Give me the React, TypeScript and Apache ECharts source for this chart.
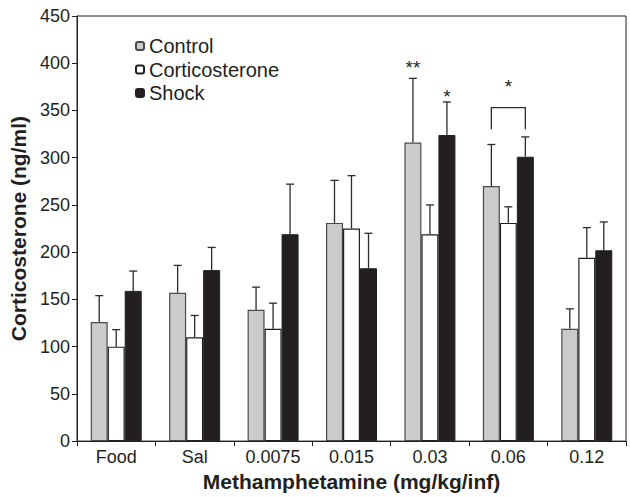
import React, { useEffect, useRef } from "react";
import * as echarts from "echarts";

const categories = ["Food", "Sal", "0.0075", "0.015", "0.03", "0.06", "0.12"];
const seriesNames = ["Control", "Corticosterone", "Shock"];
const controlValues = [126, 157, 139, 231, 316, 270, 119];
const controlSem = [28, 29, 24, 45, 68, 44, 21];
const corticosteroneValues = [100, 110, 119, 225, 219, 231, 194];
const corticosteroneSem = [18, 23, 27, 56, 31, 17, 32];
const shockValues = [159, 181, 219, 183, 324, 301, 202];
const shockSem = [21, 24, 53, 37, 35, 21, 30];
const yTicks = { min: 0, max: 450, interval: 50 };
// significance marks: [categoryIndex, barIndex (0..2, 1 = group centre), value, text]
const starMarks: [number, number, number, string][] = [
  [4, 0, 396, "**"],
  [4, 2, 365, "*"],
  [5, 1, 375, "*"],
];
// bracket: [categoryIndex, top value, leg bottom value]
const brackets: [number, number, number][] = [[5, 353, 330]];

const FONT = "'Liberation Sans', Arial, Helvetica, sans-serif";
const INK = "#231f20";
const BAR_W = 17;

export default function App() {
  const ref = useRef<HTMLDivElement>(null);
  useEffect(() => {
    if (!ref.current) return;
    const chart = echarts.init(ref.current, undefined, { renderer: "svg" });

    const errSeries = (vals: number[], sem: number[], idx: number) => ({
      type: "custom",
      silent: true,
      z: 1,
      data: vals.map((v, i) => [i, v, v + sem[i]]),
      renderItem: (params: any, api: any) => {
        const c = api.value(0);
        const p0 = api.coord([c, api.value(1)]);
        const p1 = api.coord([c, api.value(2)]);
        const x = p0[0] + (idx - 1) * BAR_W;
        const style = { stroke: "#2b2b2b", lineWidth: 1.3 };
        return {
          type: "group",
          children: [
            { type: "line", shape: { x1: x, y1: p0[1], x2: x, y2: p1[1] }, style },
            { type: "line", shape: { x1: x - 4, y1: p1[1], x2: x + 4, y2: p1[1] }, style },
          ],
        };
      },
    });

    const bars = [
      {
        name: seriesNames[0],
        data: controlValues,
        itemStyle: { color: "#cbcbcb", borderColor: "#4a4a4a", borderWidth: 1.2 },
      },
      {
        name: seriesNames[1],
        data: corticosteroneValues,
        itemStyle: { color: "#ffffff", borderColor: INK, borderWidth: 1.2 },
      },
      {
        name: seriesNames[2],
        data: shockValues,
        itemStyle: { color: INK, borderColor: INK, borderWidth: 1 },
      },
    ].map((s) => ({ ...s, type: "bar", barWidth: BAR_W, barGap: "0%", z: 2 }));

    chart.setOption({
      animation: false,
      textStyle: { fontFamily: FONT, color: INK },
      grid: {
        left: 77,
        top: 16,
        width: 549,
        height: 430,
        show: true,
        borderColor: INK,
        borderWidth: 1,
        backgroundColor: "transparent",
      },
      legend: {
        orient: "vertical",
        left: 130,
        top: 31,
        itemWidth: 8,
        itemHeight: 8,
        itemGap: 3.5,
        data: seriesNames,
        textStyle: { fontSize: 20, fontFamily: FONT, color: INK, lineHeight: 20 },
      },
      xAxis: {
        type: "category",
        data: categories,
        name: "Methamphetamine (mg/kg/inf)",
        nameLocation: "middle",
        nameGap: 23,
        nameTextStyle: { fontSize: 21, fontWeight: "bold", fontFamily: FONT, color: INK },
        axisLine: { lineStyle: { color: INK, width: 1 } },
        axisTick: { show: true, length: 5, lineStyle: { color: INK } },
        axisLabel: { fontSize: 18, color: INK, margin: 7, fontFamily: FONT },
      },
      yAxis: {
        type: "value",
        min: yTicks.min,
        max: yTicks.max,
        interval: yTicks.interval,
        name: "Corticosterone (ng/ml)",
        nameLocation: "middle",
        nameGap: 42,
        nameRotate: 90,
        nameTextStyle: { fontSize: 21, fontWeight: "bold", fontFamily: FONT, color: INK },
        axisLine: { show: true, lineStyle: { color: INK, width: 1 } },
        axisTick: { show: true, length: 5, lineStyle: { color: INK } },
        axisLabel: { fontSize: 18, color: INK, margin: 7, fontFamily: FONT },
        splitLine: { show: false },
      },
      series: [
        ...bars,
        errSeries(controlValues, controlSem, 0),
        errSeries(corticosteroneValues, corticosteroneSem, 1),
        errSeries(shockValues, shockSem, 2),
        {
          type: "custom",
          silent: true,
          z: 3,
          data: starMarks,
          renderItem: (params: any, api: any) => {
            const d = starMarks[params.dataIndex];
            const p = api.coord([d[0], d[2]]);
            return {
              type: "text",
              style: {
                text: d[3],
                x: p[0] + (d[1] - 1) * BAR_W,
                y: p[1],
                align: "center",
                verticalAlign: "middle",
                fontSize: 19,
                fontFamily: FONT,
                fill: INK,
              },
            };
          },
        },
        {
          type: "custom",
          silent: true,
          z: 3,
          data: brackets,
          renderItem: (params: any, api: any) => {
            const d = brackets[params.dataIndex];
            const top = api.coord([d[0], d[1]]);
            const leg = api.coord([d[0], d[2]]);
            const xl = top[0] - BAR_W;
            const xr = top[0] + BAR_W;
            return {
              type: "polyline",
              shape: {
                points: [
                  [xl, leg[1]],
                  [xl, top[1]],
                  [xr, top[1]],
                  [xr, leg[1]],
                ],
              },
              style: { stroke: "#2b2b2b", lineWidth: 1.3, fill: "none" },
            };
          },
        },
      ],
    });
    return () => chart.dispose();
  }, []);
  return (
    <div
      ref={ref}
      style={{ position: "absolute", left: 0, top: 0, width: 630, height: 497 }}
    />
  );
}
